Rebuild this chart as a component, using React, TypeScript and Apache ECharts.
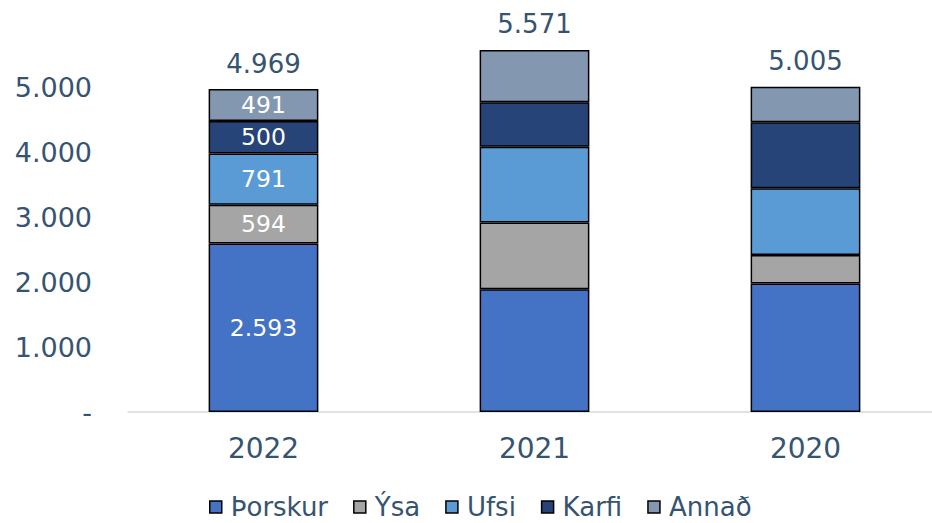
import React, { useEffect, useRef } from "react";
import * as echarts from "echarts";

const categories = ["2022", "2021", "2020"];
const thorskur = [2593, 1890, 1977];
const ysa = [594, 1027, 437];
const ufsi = [791, 1162, 1027];
const karfi = [500, 687, 1017];
const annad = [491, 805, 547];
const totals = [4969, 5571, 5005];
const yTicks = [0, 1000, 2000, 3000, 4000, 5000];

const seriesNames = ["Þorskur", "Ýsa", "Ufsi", "Karfi", "Annað"];
const seriesColors = ["#4472C4", "#A5A5A5", "#5B9BD5", "#264478", "#8497B0"];

const fmt = (v: number) => {
  if (v === 0) return "-";
  return String(Math.round(v)).replace(/\B(?=(\d{3})+(?!\d))/g, ".");
};

const FONT = "DejaVu Sans, Verdana, sans-serif";
const TEXT = "#355372";

export default function App() {
  const ref = useRef<HTMLDivElement>(null);
  useEffect(() => {
    if (!ref.current) return;
    const chart = echarts.init(ref.current, null, { renderer: "svg" });
    const values = [thorskur, ysa, ufsi, karfi, annad];
    const barSeries = values.map((arr, si) => ({
      name: seriesNames[si],
      type: "bar",
      stack: "total",
      barWidth: "40.5%",
      itemStyle: { color: seriesColors[si], borderColor: "#000", borderWidth: 1.5 },
      data: arr.map((v, i) => ({
        value: v,
        label: {
          show: i === 0,
          position: "inside",
          color: "#fff",
          fontSize: 23.5,
          fontFamily: FONT,
          formatter: (p: any) => fmt(p.value),
        },
      })),
    }));
    chart.setOption({
      animation: false,
      grid: { left: 128, top: 22, right: 0, bottom: 111, containLabel: false },
      legend: {
        data: seriesNames.map((n, i) => ({ name: n, itemStyle: { color: seriesColors[i], borderColor: "#000", borderWidth: 1.5 } })),
        left: 204,
        top: 488,
        padding: 5,
        itemWidth: 12,
        itemHeight: 12,
        itemGap: 25,
        icon: "rect",
        textStyle: { fontSize: 26, lineHeight: 28, color: TEXT, fontFamily: FONT, padding: [0, 0, 0, 4] },
      },
      xAxis: {
        type: "category",
        data: categories,
        axisLine: { show: true, lineStyle: { color: "#D9D9D9", width: 1.5 } },
        axisTick: { show: false },
        axisLabel: { fontSize: 28, color: TEXT, fontFamily: FONT, margin: 22 },
      },
      yAxis: {
        type: "value",
        min: 0,
        max: 6000,
        interval: 1000,
        axisLine: { show: false },
        axisTick: { show: false },
        splitLine: { show: false },
        axisLabel: {
          fontSize: 27,
          color: TEXT,
          fontFamily: FONT,
          margin: 36,
          formatter: (v: number) => (yTicks.includes(v) ? fmt(v) : ""),
        },
      },
      series: [
        ...barSeries,
        {
          name: "total",
          type: "line",
          data: totals,
          symbol: "circle",
          symbolSize: 1,
          showSymbol: true,
          itemStyle: { color: "rgba(0,0,0,0)" },
          lineStyle: { width: 0, color: "rgba(0,0,0,0)" },
          silent: true,
          label: {
            show: true,
            position: "top",
            distance: 12,
            fontSize: 26,
            color: TEXT,
            fontFamily: FONT,
            formatter: (p: any) => fmt(p.value),
          },
        },
      ],
    });
    return () => chart.dispose();
  }, []);
  return (
    <div style={{ width: 932, height: 523, position: "absolute", left: 0, top: 0, overflow: "hidden" }}>
      <div ref={ref} style={{ width: 941, height: 523 }} />
    </div>
  );
}
